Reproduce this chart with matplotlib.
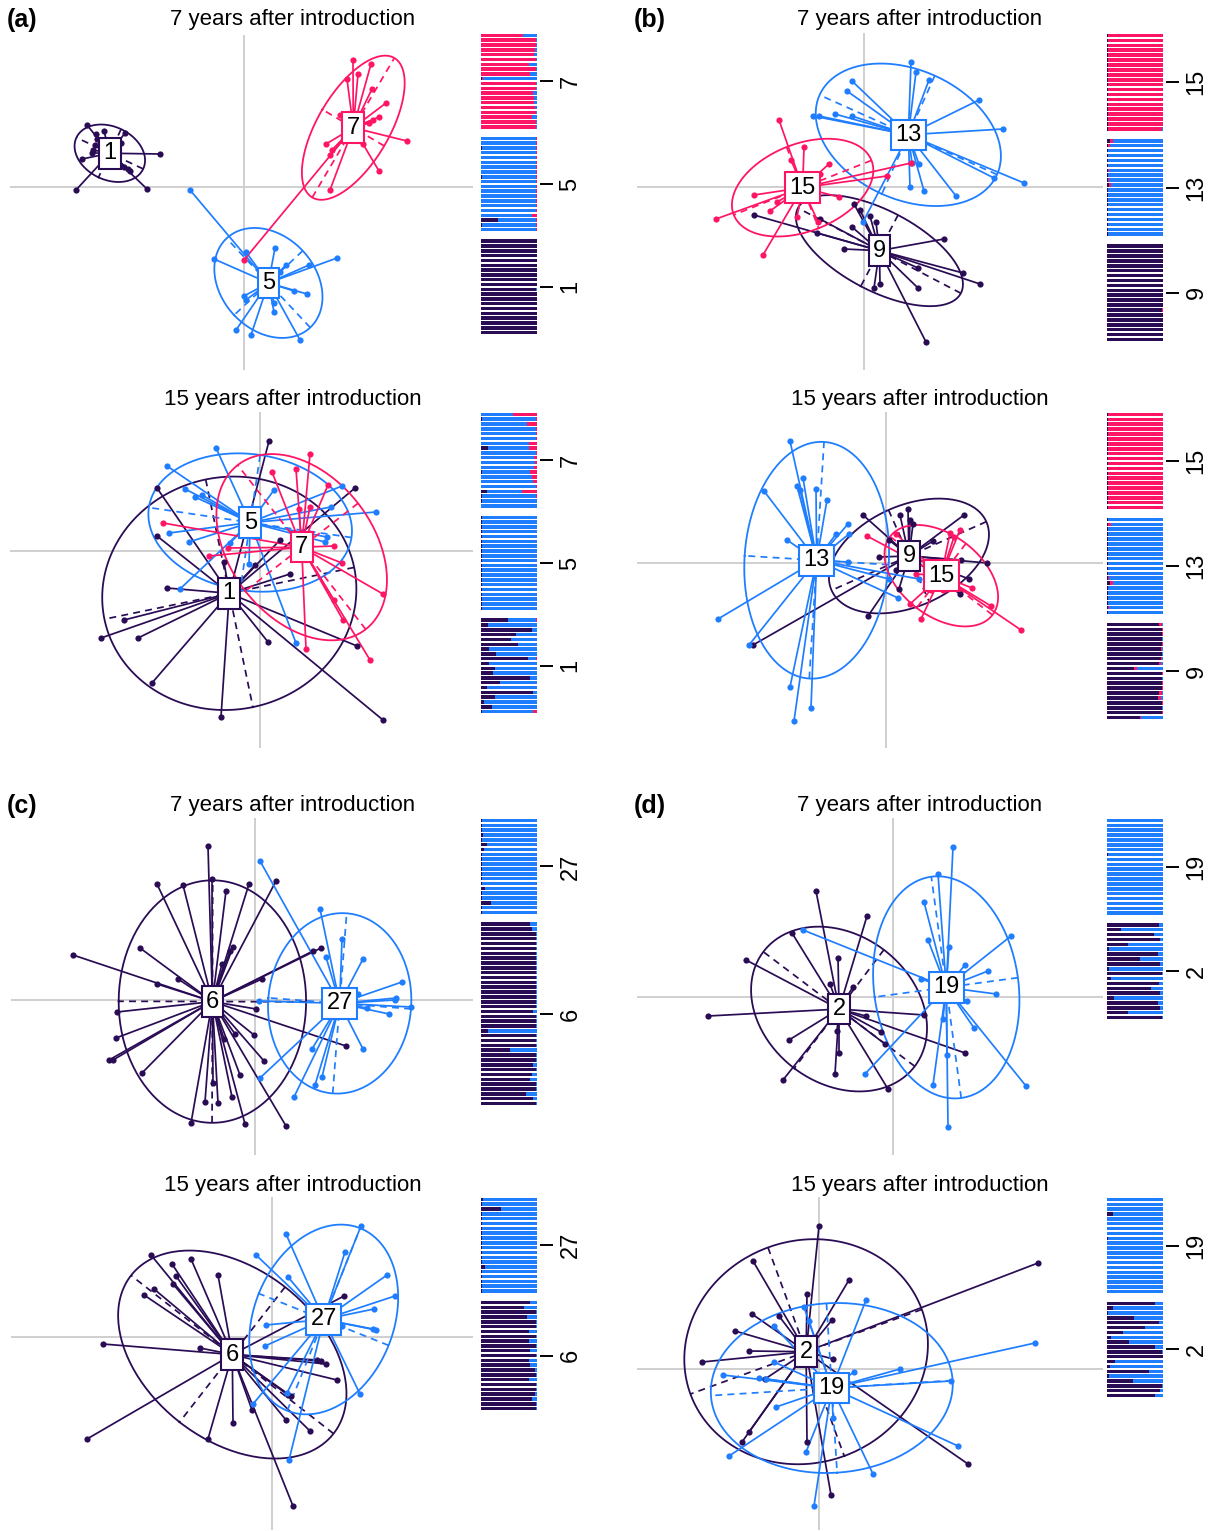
import numpy as np
import matplotlib
matplotlib.use('Agg')
import matplotlib.pyplot as plt
from matplotlib.collections import LineCollection

plt.rcParams['font.family'] = ['Liberation Sans', 'DejaVu Sans']

W, H = 1219, 1531
DARK = '#2A0C55'
BLUE = '#1F7EFF'
PINK = '#FF1565'
GRID = '#CFCFCF'

# ---- discriminant scores (x, y) per population, panel by panel ----
a7_p1_x = [-157, -148, -119, -140, -123, -151, -152, -162, -116, -114, -120, -84, -168, -97, -147, -149]
a7_p1_y = [62, 53, 54, 56, 44, 37, 34, 28, 18, 16, 20, 33, -3, -2, 48, 42]
a7_p5_x = [-54, 2, -30, 31, 65, 93, 0, 2, 50, 63, 30, 30, -8, 7, 56, 42, 36]
a7_p5_y = [-3, -65, -72, -61, -78, -71, -109, -113, -104, -107, -116, -125, -143, -148, -153, -78, -85]
a7_p7_x = [109, 103, 127, 128, 142, 135, 129, 125, 82, 88, 86, 119, 135, 86, 163, 0, 96, 114]
a7_p7_y = [127, 108, 123, 98, 84, 70, 67, 64, 43, 37, 32, 43, 16, -3, 46, -73, 72, 113]

a15_p1_x = [9, -103, 95, -103, 30, -93, -136, -159, -122, -108, -39, 8, 97, 123, -36, -5, 20]
a15_p1_y = [110, 63, 63, 15, -23, -37, -69, -87, -87, -132, -166, -91, -95, -169, -11, -14, 11]
a15_p5_x = [-44, -93, -75, -65, -91, -71, -80, 82, 116, 65, -11, 36, -58, 14, -30, 67, 71]
a15_p5_y = [103, 85, 62, 54, 18, 9, -38, 65, 39, 9, -13, -92, 56, 61, 8, 14, 44]
a15_p7_x = [50, 12, 36, 68, 39, 50, -97, -51, -32, 74, 82, 123, 74, 83, 110, 46]
a15_p7_y = [97, 79, 82, 66, 42, 44, 28, -5, 3, 5, -12, -43, -49, -69, -109, -98]

b7_p9_x = [-10, -4, 6, -110, -44, -47, -20, 80, 99, 116, 54, 54, 10, 16, 62, 12, -12]
b7_p9_y = [-17, -23, -29, -28, -32, -46, -62, -52, -86, -97, -81, -101, -101, -97, -155, -35, -40]
b7_p13_x = [47, 52, -12, 65, -17, 115, -51, -45, -29, -12, 139, 48, 55, 130, 160, 46, 60, 92, -1]
b7_p13_y = [125, 115, 106, 107, 96, 87, 71, 71, 73, 71, 58, 24, 23, 9, 4, 0, -4, -9, -35]
b7_p15_x = [-85, -60, -73, -35, 47, 23, -110, -87, -94, -148, -25, -67, -46, -101, -77, -44]
b7_p15_y = [67, 40, 27, 23, 24, 11, -8, -15, -24, -32, -10, -30, -35, -68, 7, 13]

b15_p9_x = [-23, 14, 22, 24, 27, 78, 47, 101, 75, 83, 74, 13, -18, -133, -7, 3, 10]
b15_p9_y = [48, 48, 54, 43, 39, 48, 22, 0, 3, -16, -31, -26, -53, -82, 6, 23, -7]
b15_p13_x = [-96, -83, -89, -86, -70, -59, -122, -38, -50, -37, -99, -38, 33, 12, -168, -137, -96, -75, -92, 3]
b15_p13_y = [122, 85, 77, 73, 74, 63, 72, 39, 29, 29, 23, 1, -16, -35, -56, -82, -124, -145, -158, -16]
b15_p15_x = [-19, 10, 64, 74, 68, 86, 105, 135, 35, 24, 45, 57, 60, 30]
b15_p15_y = [27, 29, 30, 33, 26, -25, -43, -67, -56, -41, -27, -27, -26, -11]

c7_p6_x = [-47, -43, -98, -72, -29, -6, 21, -182, -115, -22, -25, -33, -77, -98, 7, 58, 66, -138,
           1, -139, -146, -142, -113, -20, -1, -31, 9, -15, -50, -37, -23, -64, -10, 31, 91, -42]
c7_p6_y = [154, 121, 116, 115, 109, 116, 119, 45, 52, 53, 49, 36, 21, 16, 21, 49, 52, -12,
           -9, -38, -60, -60, -73, -34, -35, -39, -61, -75, -102, -103, -97, -123, -124, -126, -46, -83]
c7_p27_x = [5, 65, 87, 71, 108, 147, 103, 141, 140, 156, 112, 134, 4, 108, 57, 67, 60, 5, 39]
c7_p27_y = [139, 91, 61, 43, 41, 18, 6, 2, 0, -7, -8, -14, -1, -49, -49, -77, -85, -78, -97]

c15_p6_x = [-121, -100, -81, -96, -99, -118, -128, -54, 72, -169, -72, 45, 49, 54, 65, 16, 19, -39, -20, 14, 38, -64, -185, 21]
c15_p6_y = [82, 73, 78, 61, 53, 48, 42, 62, 41, -7, -11, -23, -24, -27, -43, -58, -59, -86, -73, -83, -94, -102, -102, -169]
c15_p27_x = [14, 89, -16, 73, 16, 115, 123, 102, -6, -7, 70, 101, 104, 88, 15, -19, 17]
c15_p27_y = [103, 111, 82, 85, 60, 62, 41, 28, 12, -9, 11, 8, 7, -57, -56, -67, -123]

d7_p2_x = [-77, -26, -147, -101, -55, -63, -40, -185, 31, -27, -12, -8, -56, -104, -54, 72, -58, -110, -5]
d7_p2_y = [106, 81, 37, 64, 39, 13, 10, -19, -18, -19, -35, -47, -34, -43, -56, -56, -77, -83, -92]
d7_p19_x = [60, 45, 31, 35, 56, 118, 72, 95, 103, 74, -90, 28, 50, 81, 54, 40, 133, -28, 55]
d7_p19_y = [150, 123, 95, 57, 50, 61, 32, 26, 3, -4, 67, 18, -22, -31, -58, -88, -89, -77, -130]

d15_p2_x = [0, -66, 30, -12, 219, -67, -40, 13, -84, -70, -117, 14, -54, -70, -77, -12, 149, 12]
d15_p2_y = [143, 108, 89, 75, 106, 55, 53, 49, 38, 18, 7, 10, -10, -63, -73, -73, -95, -126]
d15_p19_x = [47, -15, -10, -45, 216, -45, -60, -53, -96, 35, 81, 132, -43, 14, 139, -90, -13, 54, -5]
d15_p19_y = [69, 62, 48, 43, 26, 7, -9, -10, -6, -3, 0, -12, -38, -49, -77, -87, -83, -105, -137]

# ---- membership proportions (rows top to bottom); blue fills the rest ----
a7_bar_labels = ['7', '5', '1']
a7_bar_dark = [
    [0, 0, 0, 0, 0, 0, 0, 0, 0, .01, 0, 0, 0, 0, 0, 0, 0, 0, 0, 0],
    [0, 0, .02, 0, 0, 0, 0, 0, .02, 0, 0, 0, 0, 0, 0, 0, 0, .30, .02, 0],
    [.99, .99, .99, .99, .99, .99, .99, .99, .99, .99, .98, .99, .99, .99, .99, .99, .99, .99, .99, .99]]
a7_bar_pink = [
    [.75, .97, .97, .96, .95, .97, .85, .98, .88, .02, .98, .98, .93, .94, .94, .96, .97, .91, .98, .98],
    [.02, .02, .02, .02, .02, .02, .02, .02, .02, .02, .02, .02, .02, .02, .02, .02, .10, .02, .02, .02],
    [0, 0, 0, 0, 0, 0, 0, 0, 0, 0, 0, 0, 0, 0, 0, 0, 0, 0, 0, 0]]

a15_bar_labels = ['7', '5', '1']
a15_bar_dark = [
    [0, .01, 0, 0, 0, 0, 0, .12, 0, 0, 0, 0, .01, 0, 0, 0, .10, .01, .01, 0],
    [.01, .01, .01, .01, .01, .01, .01, .01, .01, .01, .01, .01, .01, .01, .01, .01, .01, .01, .01, .01],
    [.48, .12, .90, .63, .54, .66, .14, .27, .84, .15, .25, .21, .88, .33, .11, .92, .25, .06, .20, .02]]
a15_bar_pink = [
    [.43, .03, .18, .02, .02, .02, .15, .15, .02, .05, .04, .05, .12, .10, .08, .02, .27, .02, .01, .01],
    [.01, .01, .01, .01, .01, .01, .01, .01, .01, .01, .01, .01, .01, .01, .01, .01, .01, .01, .01, .01],
    [.02, .01, 0, .01, .01, .01, .01, .01, .02, .01, .01, .01, .01, .01, .01, .01, .01, .01, .01, .07]]

b7_bar_labels = ['15', '13', '9']
b7_bar_dark = [
    [.01, .01, .01, .01, .01, .01, .01, .01, .01, .01, .01, .01, .01, .01, .01, .01, .01, .01, .01, .02],
    [.06, .01, .01, .01, .01, .01, .01, .01, .02, .03, .01, .01, .01, .01, .01, .01, .01, .01, .01, .01],
    [.99, .99, .99, .99, .99, .99, .99, .99, .99, .99, .99, .99, .99, .97, .99, .99, .99, .99, .99, .99]]
b7_bar_pink = [
    [.98, .98, .98, .98, .98, .98, .98, .98, .98, .98, .98, .98, .98, .98, .98, .98, .98, .98, .98, .95],
    [.04, .04, .01, .01, .01, .01, .02, .01, .02, .04, .01, .01, .01, .01, .01, .01, .01, .01, .01, .01],
    [.01, .01, .01, .01, .01, .01, .01, .01, .01, .01, .01, .01, .01, .03, .01, .01, .01, .01, .01, .01]]

b15_bar_labels = ['15', '13', '9']
b15_bar_dark = [
    [.01, .01, .01, .01, .01, .02, .01, .01, .01, .01, .01, .01, .02, .01, .01, .01, .01, .01, .01, .01],
    [.01, .02, .01, .01, .01, .01, .01, .01, .01, .01, .01, .01, .02, .05, .01, .01, .01, .01, .02, .01],
    [.92, .98, .98, .97, .98, .96, .97, .96, .93, .48, .98, .97, .98, .98, .92, .90, .98, .97, .98, .58]]
b15_bar_pink = [
    [.99, .99, .99, .99, .99, .98, .99, .99, .99, .99, .99, .99, .98, .99, .99, .99, .99, .99, .99, .99],
    [.01, .05, .01, .01, .01, .01, .01, .01, .01, .01, .01, .01, .01, .05, .01, .01, .01, .01, .01, .01],
    [.05, .01, .01, .01, .01, .01, .01, .01, .03, .05, .01, .01, .01, .01, .05, .06, .01, .01, .01, .02]]

c7_bar_labels = ['27', '6']
c7_bar_dark = [
    [.01, .01, .01, .03, .01, .10, .05, .01, .01, .01, .01, .01, .01, .01, .08, .02, .01, .17, .01, .01],
    [.88, .90, .98, .98, .98, .98, .98, .98, .98, .98, .98, .98, .98, .98, .98, .98, .98, .98, .93, .98,
     .98, .98, .12, .98, .98, .98, .52, .98, .98, .92, .98, .90, .88, .98, .98, .80, .93, .98]]

c15_bar_labels = ['27', '6']
c15_bar_dark = [
    [.03, .01, .35, .01, .02, .01, .01, .01, .01, .01, .02, .01, .01, .01, .07, .01, .01, .01, .01, .01],
    [.87, .77, .98, .82, .97, .98, .86, .98, .85, .98, .87, .98, .86, .87, .96, .98, .85, .97, .98, .96, .90, .98, .98]]

d7_bar_labels = ['19', '2']
d7_bar_dark = [
    [0, 0, 0, 0, 0, 0, 0, .02, 0, 0, 0, 0, 0, 0, 0, 0, 0, 0, 0, 0],
    [.92, .25, .83, .95, .38, .03, .90, .58, .95, .03, .98, .07, .92, .78, .95, .12, .90, .95, .37, .97]]

d15_bar_labels = ['19', '2']
d15_bar_dark = [
    [0, 0, 0, .10, 0, 0, 0, 0, .02, 0, 0, 0, 0, 0, 0, 0, 0, 0, 0, 0],
    [.86, .11, .02, .48, .92, .68, .28, .07, .40, .85, .98, .99, .14, .05, .75, .04, .47, .98, .95, .85]]

# ---- layout (pixel boxes: left, top, right, bottom, origin x, origin y) ----
panels = [
    dict(box=(10, 35, 473, 370, 244, 187), bar=(481, 33, 540, 335),
         groups=[('1', DARK, a7_p1_x, a7_p1_y), ('5', BLUE, a7_p5_x, a7_p5_y), ('7', PINK, a7_p7_x, a7_p7_y)],
         labels=a7_bar_labels, dark=a7_bar_dark, pink=a7_bar_pink, order=['dpb', 'dbp', 'dbp']),
    dict(box=(10, 412, 473, 748, 260, 551), bar=(481, 412, 540, 714),
         groups=[('1', DARK, a15_p1_x, a15_p1_y), ('5', BLUE, a15_p5_x, a15_p5_y), ('7', PINK, a15_p7_x, a15_p7_y)],
         labels=a15_bar_labels, dark=a15_bar_dark, pink=a15_bar_pink, order=['dbp', 'dbp', 'dbp']),
    dict(box=(637, 33, 1103, 370, 864, 187), bar=(1107, 33, 1166, 342),
         groups=[('9', DARK, b7_p9_x, b7_p9_y), ('13', BLUE, b7_p13_x, b7_p13_y), ('15', PINK, b7_p15_x, b7_p15_y)],
         labels=b7_bar_labels, dark=b7_bar_dark, pink=b7_bar_pink, order=['dpb', 'dpb', 'dbp']),
    dict(box=(637, 412, 1103, 748, 886, 563), bar=(1107, 412, 1166, 720),
         groups=[('9', DARK, b15_p9_x, b15_p9_y), ('13', BLUE, b15_p13_x, b15_p13_y), ('15', PINK, b15_p15_x, b15_p15_y)],
         labels=b15_bar_labels, dark=b15_bar_dark, pink=b15_bar_pink, order=['dpb', 'dpb', 'dpb']),
    dict(box=(11, 818, 473, 1155, 255, 1000), bar=(481, 818, 540, 1106),
         groups=[('6', DARK, c7_p6_x, c7_p6_y), ('27', BLUE, c7_p27_x, c7_p27_y)],
         labels=c7_bar_labels, dark=c7_bar_dark, pink=None, order=['dbp', 'dbp']),
    dict(box=(11, 1197, 473, 1530, 272, 1337), bar=(481, 1197, 540, 1411),
         groups=[('6', DARK, c15_p6_x, c15_p6_y), ('27', BLUE, c15_p27_x, c15_p27_y)],
         labels=c15_bar_labels, dark=c15_bar_dark, pink=None, order=['dbp', 'dbp']),
    dict(box=(637, 818, 1103, 1155, 893, 997), bar=(1107, 818, 1166, 1020),
         groups=[('2', DARK, d7_p2_x, d7_p2_y), ('19', BLUE, d7_p19_x, d7_p19_y)],
         labels=d7_bar_labels, dark=d7_bar_dark, pink=None, order=['dbp', 'dbp']),
    dict(box=(637, 1197, 1103, 1530, 819, 1369), bar=(1107, 1197, 1166, 1398),
         groups=[('2', DARK, d15_p2_x, d15_p2_y), ('19', BLUE, d15_p19_x, d15_p19_y)],
         labels=d15_bar_labels, dark=d15_bar_dark, pink=None, order=['dbp', 'dbp']),
]


def px_rect(x0, y0, x1, y1):
    return [x0 / W, 1 - y1 / H, (x1 - x0) / W, (y1 - y0) / H]


def draw_scatter(fig, p):
    x0, y0, x1, y1, ox, oy = p['box']
    ax = fig.add_axes(px_rect(x0, y0, x1, y1))
    ax.set_xlim(x0 - ox, x1 - ox)
    ax.set_ylim(oy - y1, oy - y0)
    ax.axis('off')
    ax.axhline(0, color=GRID, lw=1.4, zorder=0)
    ax.axvline(0, color=GRID, lw=1.4, zorder=0)
    t = np.linspace(0, 2 * np.pi, 200)
    for label, col, xs, ys in p['groups']:
        xs = np.asarray(xs, float)
        ys = np.asarray(ys, float)
        cx, cy = xs.mean(), ys.mean()
        segs = [[(cx, cy), (a, b)] for a, b in zip(xs, ys)]
        ax.add_collection(LineCollection(segs, colors=col, linewidths=1.25, zorder=2))
        ax.scatter(xs, ys, s=20, color=col, zorder=3, linewidths=0)
        # inertia ellipse, 1.5 sd, with its axes dashed
        cov = np.cov(np.vstack([xs, ys]), bias=True)
        vals, vecs = np.linalg.eigh(cov)
        radii = 1.5 * np.sqrt(vals)
        pts = vecs @ np.vstack([radii[0] * np.cos(t), radii[1] * np.sin(t)])
        ax.plot(cx + pts[0], cy + pts[1], color=col, lw=1.3, zorder=2)
        for k in range(2):
            v = vecs[:, k] * radii[k]
            ax.plot([cx - v[0], cx + v[0]], [cy - v[1], cy + v[1]], color=col,
                    lw=1.25, ls=(0, (4, 3)), zorder=2)
    for label, col, xs, ys in p['groups']:
        ax.text(np.mean(xs), np.mean(ys), label, ha='center', va='center', fontsize=17, zorder=6,
                bbox=dict(boxstyle='square,pad=0.18', fc='white', ec=col, lw=1.5))


def draw_bars(fig, p):
    bx0, by0, bx1, by1 = p['bar']
    ax = fig.add_axes(px_rect(bx0, by0, bx1, by1))
    gap = 1.4
    pos = 0.0
    ticks = []
    cmap = {'d': DARK, 'b': BLUE, 'p': PINK}
    for gi, dark in enumerate(p['dark']):
        pink = p['pink'][gi] if p['pink'] is not None else [0] * len(dark)
        ys = []
        for d, pk in zip(dark, pink):
            share = {'d': d, 'p': pk, 'b': 1 - d - pk}
            left = 0.0
            for c in p['order'][gi]:
                if share[c] > 0:
                    ax.barh(-pos, share[c], left=left, height=0.72, color=cmap[c], linewidth=0)
                    left += share[c]
            ys.append(-pos)
            pos += 1
        ticks.append(np.mean(ys))
        pos += gap
    ax.set_ylim(-(pos - gap) + 0.5, 0.5)
    ax.set_xlim(0, 1.05)
    for s in ax.spines.values():
        s.set_visible(False)
    ax.set_xticks([])
    ax.set_yticks(ticks)
    ax.set_yticklabels(p['labels'], rotation=90, va='center')
    ax.tick_params(axis='y', left=False, labelleft=False, right=True, labelright=True,
                   length=9, width=1.4, pad=5, labelsize=17)


fig = plt.figure(figsize=(W / 100, H / 100), dpi=100)
for p in panels:
    draw_scatter(fig, p)
    draw_bars(fig, p)

for lx, ly, txt in [(7, 20, '(a)'), (634, 20, '(b)'), (7, 806, '(c)'), (634, 806, '(d)')]:
    fig.text(lx / W, 1 - ly / H, txt, fontsize=18, fontweight='bold', va='center', ha='left')
for ty, txt in [(20, '7 years after introduction'), (400, '15 years after introduction'),
                (806, '7 years after introduction'), (1185, '15 years after introduction')]:
    fig.text(293 / W, 1 - ty / H, txt, fontsize=16, va='center', ha='center')
    fig.text(920 / W, 1 - ty / H, txt, fontsize=16, va='center', ha='center')

fig.savefig('out.png', dpi=100, facecolor='white')
